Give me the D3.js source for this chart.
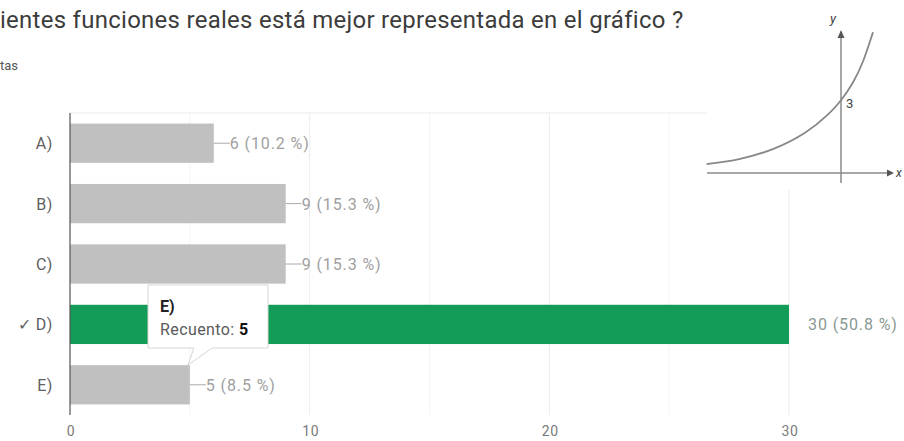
<!DOCTYPE html>
<html>
<head>
<meta charset="utf-8">
<script src="https://cdn.jsdelivr.net/npm/d3@7"></script>
<style>
  html, body { margin: 0; padding: 0; background: #fff; }
  svg { display: block; font-family: Roboto, Arial, sans-serif; }
</style>
</head>
<body>
<div id="chart"></div>
<script>
"use strict";

// Chart data
const categories = ["A)", "B)", "C)", "D)", "E)"];
const counts = [6, 9, 9, 30, 5];
const percents = [10.2, 15.3, 15.3, 50.8, 8.5];
const correctAnswer = "D)";
const xTicks = [0, 10, 20, 30];
const minorTicks = [5, 15, 25];

// Tooltip content (hovered bar)
const tooltipCategory = "E)";
const tooltipLabel = "Recuento: ";

// Inset sketch: points (x, y in its own units)
const curveX = [-4.2, -3.2, -2.1, -1.06, -0.34, 0, 0.38, 0.69, 1.0];
const curveY = [0.37, 0.54, 0.96, 1.67, 2.5, 3, 3.75, 4.58, 5.87];

const width = 904;
const height = 441;

const svg = d3.select("#chart")
  .append("svg")
  .attr("width", width)
  .attr("height", height);

// Title (cut off on the left, as in the screenshot)
const title = svg.append("text")
  .attr("x", 0)
  .attr("y", 28)
  .style("font-size", "18px")
  .style("letter-spacing", "0.3px")
  .style("fill", "#3c3c3c")
  .text("ientes funciones reales está mejor representada en el gráfico ?");
// stretch font so the line ends where it does in the picture
const tw = title.node().getComputedTextLength();
title.style("font-size", (18 * 690 / tw).toFixed(2) + "px");

svg.append("text")
  .attr("x", 0)
  .attr("y", 70)
  .style("font-size", "13px")
  .style("fill", "#555")
  .text("tas");

// Scales
const x = d3.scaleLinear().domain([0, 30]).range([70, 789]);
const y = d3.scaleBand()
  .domain(categories)
  .range([113, 415])
  .paddingInner(0.35)
  .paddingOuter(0.175);

const plotTop = 113;
const plotBottom = 415;

// Grid
svg.append("g")
  .selectAll("line")
  .data(minorTicks)
  .join("line")
  .attr("x1", d => x(d)).attr("x2", d => x(d))
  .attr("y1", plotTop).attr("y2", plotBottom)
  .attr("stroke", "#f4f4f4");

svg.append("g")
  .selectAll("line")
  .data(xTicks.slice(1))
  .join("line")
  .attr("x1", d => x(d)).attr("x2", d => x(d))
  .attr("y1", plotTop).attr("y2", plotBottom)
  .attr("stroke", "#ebebeb");

svg.append("line")
  .attr("x1", x(0)).attr("x2", x(30))
  .attr("y1", plotTop).attr("y2", plotTop)
  .attr("stroke", "#ebebeb");

// X tick labels
svg.append("g")
  .selectAll("text")
  .data(xTicks)
  .join("text")
  .attr("x", d => x(d) + 1)
  .attr("y", 436)
  .attr("text-anchor", "middle")
  .style("font-size", "14px")
  .style("letter-spacing", "0.6px")
  .style("fill", "#7a7a7a")
  .text(d => d);

// Bars
const rows = categories.map((c, i) => ({ cat: c, count: counts[i], pct: percents[i] }));

svg.append("g")
  .selectAll("rect")
  .data(rows)
  .join("rect")
  .attr("x", x(0))
  .attr("y", d => y(d.cat))
  .attr("width", d => x(d.count) - x(0))
  .attr("height", y.bandwidth())
  .attr("fill", d => d.cat === correctAnswer ? "#129c57" : "#c0c0c0");

// Baseline axis
svg.append("line")
  .attr("x1", x(0)).attr("x2", x(0))
  .attr("y1", plotTop).attr("y2", plotBottom)
  .attr("stroke", "#555")
  .attr("stroke-width", 1.2);

// Category labels
svg.append("g")
  .selectAll("text")
  .data(rows)
  .join("text")
  .attr("x", 53)
  .attr("y", d => y(d.cat) + y.bandwidth() / 2 + 6)
  .attr("text-anchor", "end")
  .style("font-size", "16px")
  .style("letter-spacing", "0.6px")
  .style("fill", "#5f5f5f")
  .text(d => d.cat === correctAnswer ? "\u2713 " + d.cat : d.cat);

// Value labels
const valueLabel = d => `${d.count} (${d.pct} %)`;
const inside = rows.filter(d => d.cat !== correctAnswer);
const outside = rows.filter(d => d.cat === correctAnswer);

svg.append("g")
  .selectAll("line")
  .data(inside)
  .join("line")
  .attr("x1", d => x(d.count)).attr("x2", d => x(d.count) + 16)
  .attr("y1", d => y(d.cat) + y.bandwidth() / 2)
  .attr("y2", d => y(d.cat) + y.bandwidth() / 2)
  .attr("stroke", "#aaa");

const valueText = (sel, dx) => sel
  .attr("x", d => x(d.count) + dx)
  .attr("y", d => y(d.cat) + y.bandwidth() / 2 + 6)
  .style("font-size", "16px")
  .style("letter-spacing", "0.9px")
  .text(valueLabel);

svg.append("g")
  .selectAll("text")
  .data(inside)
  .join("text")
  .call(valueText, 16)
  .style("fill", "#a0a0a0");

svg.append("g")
  .selectAll("text")
  .data(outside)
  .join("text")
  .call(valueText, 19)
  .style("fill", "#8a9a94");

// Tooltip over the E) bar
const tipRow = rows.find(d => d.cat === tooltipCategory);
const tipX = 148, tipY = 285, tipW = 120, tipH = 63;
const tipAnchorX = x(tipRow.count) - 2;
const tipAnchorY = y(tipRow.cat);
const tip = svg.append("g");
tip.append("path")
  .attr("d", `M${tipX},${tipY} H${tipX + tipW} V${tipY + tipH} H${tipX + 64}
    L${tipAnchorX},${tipAnchorY} L${tipX + 46},${tipY + tipH} H${tipX} Z`)
  .attr("fill", "#fff")
  .attr("stroke", "#d6d6d6")
  .attr("stroke-width", 1);
tip.append("text")
  .attr("x", tipX + 12)
  .attr("y", tipY + 27)
  .style("font-size", "16px")
  .style("font-weight", "bold")
  .style("fill", "#222")
  .text(tipRow.cat);
const tipText = tip.append("text")
  .attr("x", tipX + 12)
  .attr("y", tipY + 50)
  .style("font-size", "16px")
  .style("letter-spacing", "0.4px")
  .style("fill", "#5a5a5a");
tipText.append("tspan").text(tooltipLabel);
tipText.append("tspan")
  .style("font-weight", "bold")
  .style("fill", "#111")
  .text(tipRow.count);

// Inset picture of the function (pasted over the top-right corner)
const inset = svg.append("g");
inset.append("rect")
  .attr("x", 707).attr("y", 0)
  .attr("width", width - 707).attr("height", 190)
  .attr("fill", "#fff");

const ix = d3.scaleLinear().domain([0, 1]).range([841, 873]);
const iy = d3.scaleLinear().domain([0, 3]).range([173, 101]);

inset.append("line")
  .attr("x1", 707).attr("x2", 888)
  .attr("y1", iy(0)).attr("y2", iy(0))
  .attr("stroke", "#8a8a8a").attr("stroke-width", 1.5);
inset.append("path")
  .attr("d", "M887,169.5 L894,173 L887,176.5 Z")
  .attr("fill", "#555");
inset.append("line")
  .attr("x1", ix(0)).attr("x2", ix(0))
  .attr("y1", 183).attr("y2", 36)
  .attr("stroke", "#8a8a8a").attr("stroke-width", 1.5);
inset.append("path")
  .attr("d", `M${ix(0) - 3.5},38 L${ix(0)},30 L${ix(0) + 3.5},38 Z`)
  .attr("fill", "#555");

inset.append("path")
  .datum(curveX.map((v, i) => [v, curveY[i]]))
  .attr("d", d3.line().x(d => ix(d[0])).y(d => iy(d[1])).curve(d3.curveBasis))
  .attr("fill", "none")
  .attr("stroke", "#888")
  .attr("stroke-width", 1.8);

inset.append("text")
  .attr("x", 830).attr("y", 23)
  .style("font-size", "13px")
  .style("font-style", "italic")
  .style("fill", "#444")
  .text("y");
inset.append("text")
  .attr("x", 896).attr("y", 177)
  .style("font-size", "12px")
  .style("font-style", "italic")
  .style("fill", "#444")
  .text("x");
inset.append("text")
  .attr("x", ix(0) + 5).attr("y", 108)
  .style("font-size", "13px")
  .style("fill", "#444")
  .text("3");
</script>
</body>
</html>
